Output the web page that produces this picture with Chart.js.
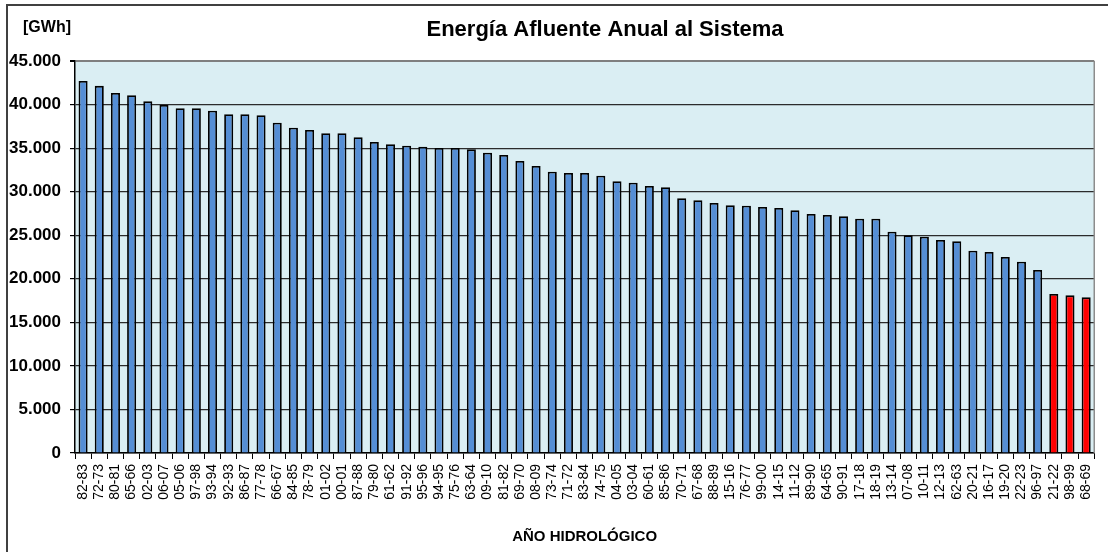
<!DOCTYPE html>
<html>
<head>
<meta charset="utf-8">
<script src="https://cdn.jsdelivr.net/npm/chart.js@4/dist/chart.umd.min.js"></script>
<style>
  html, body { margin: 0; padding: 0; background: #ffffff; }
  #wrap { width: 1108px; height: 552px; position: relative; }
</style>
</head>
<body>
<div id="wrap"><canvas id="chart" width="1108" height="552"></canvas></div>
<script>
// Hydrological years, ordered from the wettest to the driest
const categories = [
  '82-83', '72-73', '80-81', '65-66', '02-03', '06-07', '05-06', '97-98', '93-94', '92-93',
  '86-87', '77-78', '66-67', '84-85', '78-79', '01-02', '00-01', '87-88', '79-80', '61-62',
  '91-92', '95-96', '94-95', '75-76', '63-64', '09-10', '81-82', '69-70', '08-09', '73-74',
  '71-72', '83-84', '74-75', '04-05', '03-04', '60-61', '85-86', '70-71', '67-68', '88-89',
  '15-16', '76-77', '99-00', '14-15', '11-12', '89-90', '64-65', '90-91', '17-18', '18-19',
  '13-14', '07-08', '10-11', '12-13', '62-63', '20-21', '16-17', '19-20', '22-23', '96-97',
  '21-22', '98-99', '68-69'
];

// Annual inflow energy [GWh]
const energiaGWh = [
  42700, 42150, 41330, 41060, 40370, 39950, 39570, 39570, 39300, 38900,
  38900, 38770, 37920, 37350, 37080, 36700, 36700, 36240, 35700, 35440,
  35280, 35170, 35010, 35010, 34860, 34470, 34210, 33520, 32950, 32300,
  32140, 32140, 31830, 31190, 31030, 30650, 30500, 29240, 29010, 28700,
  28430, 28390, 28240, 28130, 27860, 27440, 27320, 27170, 26900, 26900,
  25410, 24990, 24830, 24450, 24300, 23220, 23070, 22500, 21960, 21010,
  18250, 18100, 17870
];

// Years drawn in red
const destacados = ['21-22', '98-99', '68-69'];

// Y axis tick values
const yTicks = [0, 5000, 10000, 15000, 20000, 25000, 30000, 35000, 40000, 45000];

const FONT = 'Liberation Sans, Arial, Helvetica, sans-serif';

const barColors = categories.map(c => destacados.includes(c) ? '#FF0000' : '#558ED5');

function miles(v) {
  return String(v).replace(/\B(?=(\d{3})+(?!\d))/g, '.');
}

const marco = {
  id: 'marco',
  beforeDraw(chart) {
    const { ctx, chartArea: a } = chart;
    ctx.save();
    ctx.fillStyle = '#DAEEF3';
    ctx.fillRect(a.left, a.top, a.right - a.left, a.bottom - a.top);
    ctx.restore();
  },
  afterDraw(chart) {
    const { ctx, chartArea: a } = chart;
    ctx.save();
    // plot area right edge
    ctx.strokeStyle = '#8c8c8c';
    ctx.lineWidth = 1.5;
    ctx.beginPath();
    ctx.moveTo(a.right, a.top);
    ctx.lineTo(a.right, a.bottom);
    ctx.stroke();
    // outer frame
    ctx.strokeStyle = '#404040';
    ctx.lineWidth = 2;
    ctx.beginPath();
    ctx.moveTo(7, 552);
    ctx.lineTo(7, 5);
    ctx.lineTo(1108, 5);
    ctx.stroke();
    // titles
    ctx.fillStyle = '#000';
    ctx.textBaseline = 'middle';
    ctx.textAlign = 'center';
    ctx.font = 'bold 22px ' + FONT;
    ctx.fillText('Energía Afluente Anual al Sistema', 605, 30);
    ctx.font = 'bold 16px ' + FONT;
    ctx.fillText('[GWh]', 47, 28);
    ctx.restore();
  }
};

new Chart(document.getElementById('chart'), {
  type: 'bar',
  data: {
    labels: categories,
    datasets: [{
      data: energiaGWh,
      backgroundColor: barColors,
      borderColor: '#000000',
      borderWidth: 1.8,
      barPercentage: 0.56,
      categoryPercentage: 1
    }]
  },
  options: {
    responsive: false,
    animation: false,
    devicePixelRatio: 1,
    layout: { padding: { top: 61, right: 5, left: 0, bottom: 0 } },
    plugins: {
      legend: { display: false },
      tooltip: { enabled: false }
    },
    scales: {
      x: {
        grid: { drawOnChartArea: false, drawTicks: true, tickLength: 6, color: '#000', lineWidth: 1 },
        border: { color: '#000', width: 1.5 },
        ticks: {
          autoSkip: false, minRotation: 90, maxRotation: 90, padding: 5,
          color: '#000', font: { family: FONT, size: 14 }
        },
        title: {
          display: true, text: 'AÑO HIDROLÓGICO', color: '#000',
          font: { family: FONT, size: 15, weight: 'bold' },
          padding: { top: 0, bottom: 6 }
        },
        afterFit(s) { s.height = 99; }
      },
      y: {
        min: 0, max: 45000,
        afterBuildTicks(s) { s.ticks = yTicks.map(v => ({ value: v })); },
        ticks: {
          padding: 9, color: '#000',
          font: { family: FONT, size: 17, weight: 'bold' },
          callback: v => miles(v)
        },
        grid: {
          color: c => (c.tick && c.tick.value === 45000) ? '#7f7f7f' : '#2b2b2b',
          lineWidth: c => (c.tick && c.tick.value === 45000) ? 2 : 1.2,
          tickColor: '#000', tickLength: 5, drawTicks: true
        },
        border: { color: '#000', width: 1.5 },
        afterFit(s) { s.width = 75; }
      }
    }
  },
  plugins: [marco]
});
</script>
</body>
</html>
